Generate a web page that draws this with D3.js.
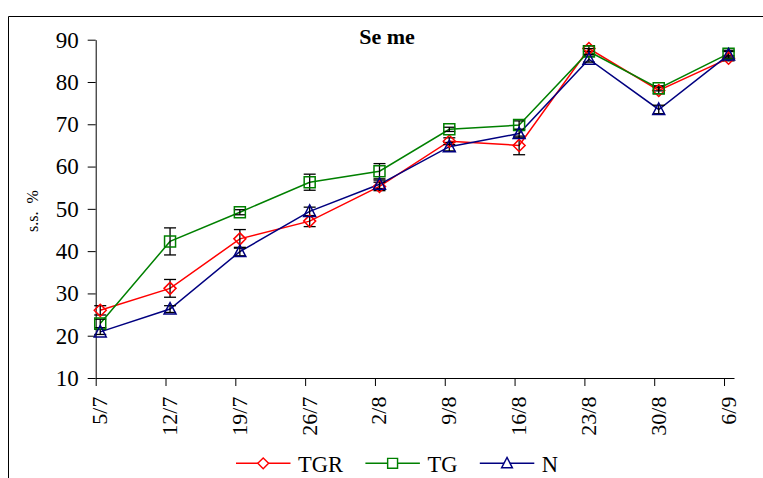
<!DOCTYPE html>
<html>
<head>
<meta charset="utf-8">
<script src="https://cdn.jsdelivr.net/npm/d3@7"></script>
<style>
  body { margin: 0; background: #fff; }
  svg { display: block; font-family: "Liberation Serif", "Times New Roman", serif; }
</style>
</head>
<body>
<script>
// sampling dates (day/month)
var dates = ["5/7", "12/7", "19/7", "26/7", "2/8", "9/8", "16/8", "23/8", "30/8", "6/9"];

// s.s. % per treatment, with error bar half-widths
var tgr    = [26.0, 31.2, 42.9, 47.1, 55.3, 66.0, 65.0, 87.9, 78.0, 85.6];
var tgrErr = [1.1, 2.1, 2.2, 1.3, 1.0, 0.8, 2.2, 0.7, 0.8, 0.6];
var tg     = [22.9, 42.3, 49.2, 56.3, 58.9, 68.8, 69.8, 87.2, 78.5, 86.7];
var tgErr  = [1.0, 3.2, 0.6, 1.9, 1.8, 0.5, 1.0, 0.7, 0.6, 0.8];
var nn     = [20.9, 26.3, 39.9, 49.4, 55.8, 64.7, 67.8, 85.4, 73.5, 86.4];
var nnErr  = [0.6, 0.8, 1.0, 1.0, 1.0, 1.0, 1.0, 0.7, 1.0, 0.8];

var yTicks = [10, 20, 30, 40, 50, 60, 70, 80, 90];

var series = [
  { name: "TGR", values: tgr, err: tgrErr, color: "#ff0000", shape: "diamond" },
  { name: "TG",  values: tg,  err: tgErr,  color: "#008000", shape: "square" },
  { name: "N",   values: nn,  err: nnErr,  color: "#000080", shape: "triangle" }
];

var width = 763, height = 478;

var svg = d3.select("body").append("svg")
    .attr("width", width)
    .attr("height", height);

// outer frame (cropped on right and bottom)
svg.append("path")
    .attr("d", "M8.5," + height + "V16.5H" + width)
    .attr("fill", "none")
    .attr("stroke", "#000")
    .attr("stroke-width", 1);

// x is an index scale; points sit a little right of the ticks like in the original
var x = d3.scaleLinear()
    .domain([0, 9.143])
    .range([95.7, 734]);
var shift = 0.065;

var y = d3.scaleLinear()
    .domain([10, 90])
    .range([378, 39.7]);

var xAxis = d3.axisBottom(x)
    .tickValues(d3.range(dates.length))
    .tickFormat(i => dates[i])
    .tickSize(8)
    .tickSizeOuter(0);

var yAxis = d3.axisLeft(y)
    .tickValues(yTicks)
    .tickSize(8)
    .tickSizeOuter(0)
    .tickPadding(9);

var gx = svg.append("g")
    .attr("transform", "translate(0,378)")
    .call(xAxis);

gx.selectAll("text")
    .attr("transform", "rotate(-90)")
    .attr("x", -18.5)
    .attr("y", 0)
    .attr("dy", "0.5em")
    .style("text-anchor", "end")
    .style("font-size", "22px")
    .style("font-family", "Liberation Serif")
    .attr("fill", "#000");

var gy = svg.append("g")
    .attr("transform", "translate(95.7,0)")
    .call(yAxis);

gy.selectAll("text")
    .style("font-size", "23px")
    .style("font-family", "Liberation Serif")
    .attr("fill", "#000");

svg.selectAll(".domain, .tick line")
    .attr("stroke", "#000")
    .attr("stroke-width", 1);

// y label
svg.append("text")
    .attr("transform", "translate(38,211) rotate(-90)")
    .style("text-anchor", "middle")
    .style("font-size", "16px")
    .style("white-space", "pre")
    .text("s.s.  %");

// title
svg.append("text")
    .attr("x", 387)
    .attr("y", 44)
    .style("text-anchor", "middle")
    .style("font-size", "22px")
    .style("font-weight", "bold")
    .text("Se me");

function shapePath(shape) {
  if (shape === "diamond") return "M0,-6L6,0L0,6L-6,0Z";
  if (shape === "square") return "M-5.5,-5.5H5.5V5.5H-5.5Z";
  return "M0,-6.5L6,5L-6,5Z";
}

var line = d3.line()
    .x((d, i) => x(i + shift))
    .y(d => y(d));

// lines
series.forEach(s => {
  svg.append("path")
      .datum(s.values)
      .attr("d", line)
      .attr("fill", "none")
      .attr("stroke", s.color)
      .attr("stroke-width", 1.5);
});

// error bars
series.forEach(s => {
  var g = svg.append("g").attr("stroke", "#000").attr("stroke-width", 1.3);
  s.values.forEach((v, i) => {
    var px = x(i + shift);
    var lo = y(v - s.err[i]), hi = y(v + s.err[i]);
    g.append("line").attr("x1", px).attr("x2", px).attr("y1", lo).attr("y2", hi);
    g.append("line").attr("x1", px - 6).attr("x2", px + 6).attr("y1", lo).attr("y2", lo);
    g.append("line").attr("x1", px - 6).attr("x2", px + 6).attr("y1", hi).attr("y2", hi);
  });
});

// markers
series.forEach(s => {
  svg.append("g").selectAll("path")
      .data(s.values)
    .enter().append("path")
      .attr("d", shapePath(s.shape))
      .attr("transform", (d, i) => "translate(" + x(i + shift) + "," + y(d) + ")")
      .attr("fill", "none")
      .attr("stroke", s.color)
      .attr("stroke-width", 1.5);
});

// legend
var lx = 236, ly = 463.3;
series.forEach(s => {
  var g = svg.append("g").attr("transform", "translate(" + lx + "," + ly + ")");
  g.append("line")
      .attr("x1", 0).attr("x2", 54.5)
      .attr("stroke", s.color)
      .attr("stroke-width", 1.5);
  g.append("path")
      .attr("d", shapePath(s.shape))
      .attr("transform", "translate(27.2,0) scale(0.9)")
      .attr("fill", "#fff")
      .attr("stroke", s.color)
      .attr("stroke-width", 1.6);
  var t = g.append("text")
      .attr("x", 62)
      .attr("y", 8.4)
      .style("font-size", "22.5px")
      .text(s.name);
  lx += 62 + t.node().getComputedTextLength() + 22.4;
});
</script>
</body>
</html>
